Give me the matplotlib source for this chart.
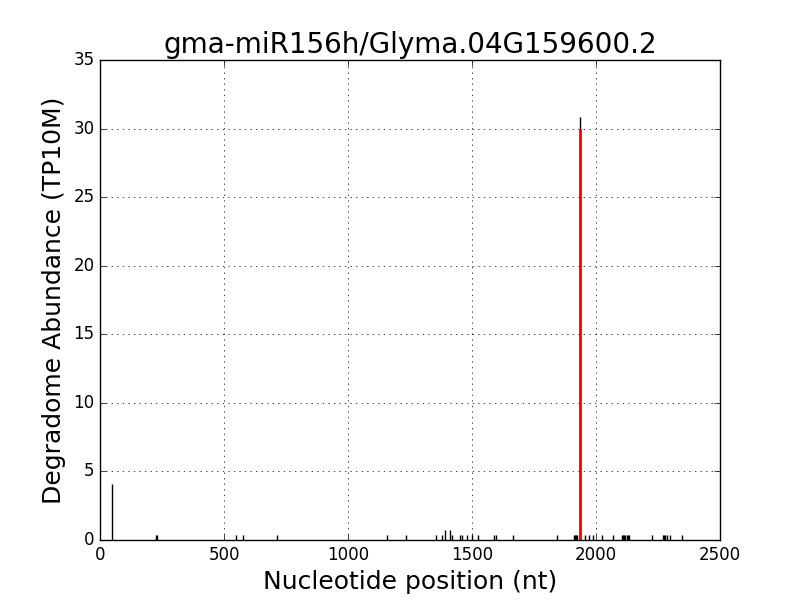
import numpy as np
import matplotlib
matplotlib.use('Agg')
import matplotlib.pyplot as plt

# Degradome reads (position, abundance)
positions = [48, 227, 230, 548, 578, 715, 1156, 1232, 1355, 1378, 1393, 1411, 1421,
             1452, 1460, 1481, 1500, 1525, 1587, 1596, 1666, 1844,
             1912, 1916, 1920, 1924, 1954, 1972, 1989, 2025, 2070,
             2105, 2109, 2113, 2117, 2125, 2129, 2133, 2227, 2270, 2274, 2278,
             2288, 2298, 2345, 1934]
abundance = [4.1, 0.33, 0.33, 0.33, 0.33, 0.33, 0.33, 0.33, 0.33, 0.33, 0.7, 0.7, 0.33,
             0.33, 0.33, 0.33, 0.33, 0.33, 0.33, 0.33, 0.33, 0.33,
             0.33, 0.33, 0.33, 0.33, 0.33, 0.33, 0.33, 0.33, 0.33,
             0.33, 0.33, 0.33, 0.33, 0.33, 0.33, 0.33, 0.33, 0.33, 0.33, 0.33,
             0.33, 0.33, 0.33, 30.85]

# miRNA cleavage site
site_pos = [1934]
site_val = [30.0]

plt.style.use('classic')
fig = plt.figure(figsize=(8, 6), dpi=100, facecolor='white')
ax = fig.add_axes([0.125, 0.1, 0.775, 0.8])
ax.vlines(positions, 0, abundance, colors='black', linewidth=1)
ax.vlines(site_pos, 0, site_val, colors='red', linewidth=2)
ax.set_xlim(0, 2500)
ax.set_ylim(0, 35)
ax.grid(True)
ax.set_title('gma-miR156h/Glyma.04G159600.2', fontsize=20)
ax.set_xlabel('Nucleotide position (nt)', fontsize=18)
ax.set_ylabel('Degradome Abundance (TP10M)', fontsize=18)
ax.tick_params(labelsize=12)
fig.savefig('out.png', dpi=100, facecolor='white')
